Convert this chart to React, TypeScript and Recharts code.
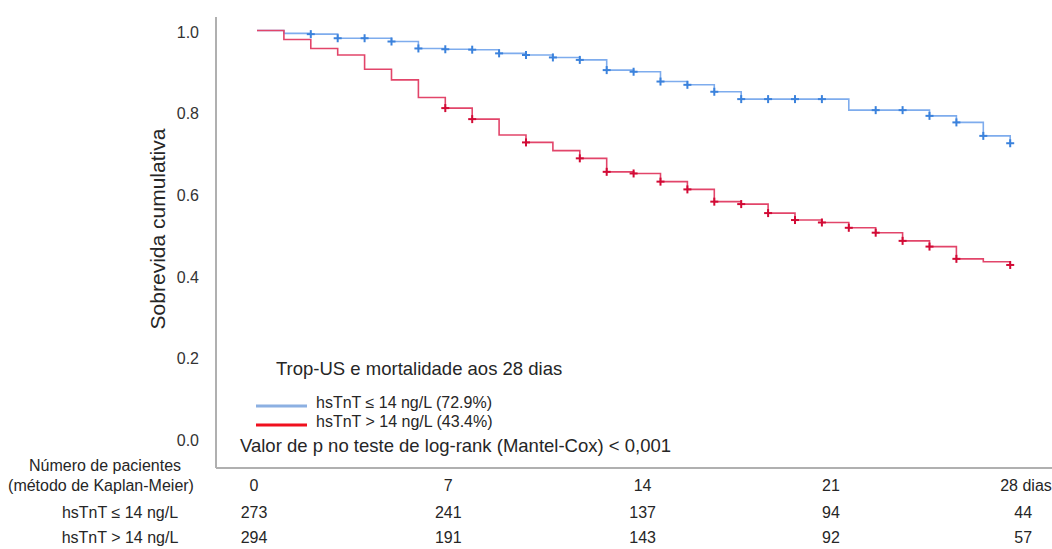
import { Legend, Line, LineChart, XAxis, YAxis } from "recharts";

const days = [
  0, 1, 2, 3, 4, 5, 6, 7, 8, 9, 10, 11, 12, 13, 14, 15, 16, 17, 18, 19, 20,
  21, 22, 23, 24, 25, 26, 27, 28,
];

// hsTnT <= 14 ng/L
const lowSurvival = [
  1.0, 0.993, 0.991, 0.981, 0.981, 0.973, 0.956, 0.954, 0.953, 0.944, 0.94,
  0.934, 0.928, 0.903, 0.899, 0.875, 0.867, 0.85, 0.832, 0.832, 0.832, 0.832,
  0.805, 0.805, 0.805, 0.791, 0.775, 0.742, 0.724,
];
const lowCensored = [
  2, 3, 4, 5, 6, 7, 8, 9, 10, 11, 12, 13, 14, 15, 16, 17, 18, 19, 20, 21, 23,
  24, 25, 26, 27, 28,
];

// hsTnT > 14 ng/L
const highSurvival = [
  1.0, 0.978, 0.956, 0.94, 0.905, 0.879, 0.836, 0.81, 0.783, 0.744, 0.726,
  0.706, 0.687, 0.654, 0.65, 0.63, 0.611, 0.581, 0.575, 0.553, 0.536, 0.53,
  0.517, 0.505, 0.485, 0.471, 0.441, 0.434, 0.426,
];
const highCensored = [
  7, 8, 10, 12, 13, 14, 15, 16, 17, 18, 19, 20, 21, 22, 23, 24, 25, 26, 28,
];

const xTicks = [0, 7, 14, 21, 28];
const xTickLabels = ["0", "7", "14", "21", "28 dias"];
const atRiskLow = [273, 241, 137, 94, 44];
const atRiskHigh = [294, 191, 143, 92, 57];
const yTicks = [0, 0.2, 0.4, 0.6, 0.8, 1.0];

const lowName = "hsTnT ≤ 14 ng/L";
const highName = "hsTnT > 14 ng/L";

const data = days.map((d, i) => ({
  day: d,
  low: lowSurvival[i],
  high: highSurvival[i],
}));

const FONT = '"Liberation Sans", Arial, Helvetica, sans-serif';
const TEXT = "#262626";
const BLUE = "#7eaced";
const BLUE_MARK = "#3b82dc";
const RED = "#e2456a";
const RED_MARK = "#d20a35";
const AXIS = "#b0b0b0";

// small horizontal shifts of the at-risk columns relative to the tick
const COLUMN_NUDGE = [-3, 3, 9, 9, 13];

function crossDot(censored: number[], color: string) {
  return (props: any) => {
    const { cx, cy, payload, index } = props;
    if (!censored.includes(payload.day)) return <g key={`c-${index}`} />;
    return (
      <g key={`c-${index}`} stroke={color} strokeWidth={2}>
        <line x1={cx - 4} y1={cy} x2={cx + 4} y2={cy} />
        <line x1={cx} y1={cy - 4} x2={cx} y2={cy + 4} />
      </g>
    );
  };
}

function RiskTick({ x, y, payload }: any) {
  const i = xTicks.indexOf(payload.value);
  const col = x + COLUMN_NUDGE[i];
  const last = i === xTicks.length - 1;
  return (
    <g fontSize={16} fill={TEXT} fontFamily={FONT}>
      <text x={last ? x - 10 : col} y={y + 23} textAnchor={last ? "start" : "middle"}>
        {xTickLabels[i]}
      </text>
      <text x={col} y={y + 50} textAnchor="middle">
        {atRiskLow[i]}
      </text>
      <text x={col} y={y + 75} textAnchor="middle">
        {atRiskHigh[i]}
      </text>
      {i === 0 && (
        <>
          <text x={105} y={y + 3} textAnchor="middle">Número de pacientes</text>
          <text x={101} y={y + 23} textAnchor="middle">(método de Kaplan-Meier)</text>
          <text x={120} y={y + 50} textAnchor="middle">{lowName}</text>
          <text x={120} y={y + 75} textAnchor="middle">{highName}</text>
        </>
      )}
    </g>
  );
}

function KMLegend() {
  return (
    <svg width={480} height={110} style={{ fontFamily: FONT }}>
      <text x={46} y={25} fontSize={18.5} fill={TEXT}>
        Trop-US e mortalidade aos 28 dias
      </text>
      <line x1={26} y1={56} x2={77} y2={56} stroke="#8cb0e2" strokeWidth={3} />
      <text x={86} y={58} fontSize={16} fill={TEXT}>
        {lowName} (72.9%)
      </text>
      <line x1={26} y1={75} x2={77} y2={75} stroke="#f0101e" strokeWidth={3} />
      <text x={86} y={77} fontSize={16} fill={TEXT}>
        {highName} (43.4%)
      </text>
      <text x={10} y={102} fontSize={18.5} fill={TEXT}>
        Valor de p no teste de log-rank (Mantel-Cox) {"<"} 0,001
      </text>
    </svg>
  );
}

export default function App() {
  return (
    <div style={{ position: "absolute", left: 0, top: 0, width: 1052, height: 549, background: "#fff" }}>
      <LineChart
        width={1052}
        height={549}
        data={data}
        margin={{ top: 17, right: 0, left: 0, bottom: 0 }}
      >
        <XAxis
          dataKey="day"
          type="number"
          domain={[-1.524, 29.554]}
          allowDataOverflow
          ticks={xTicks}
          interval={0}
          tick={<RiskTick />}
          tickLine={false}
          tickSize={0}
          tickMargin={0}
          height={81}
          axisLine={{ stroke: AXIS, strokeWidth: 2 }}
        />
        <YAxis
          type="number"
          domain={[-0.071, 1.033]}
          allowDataOverflow
          ticks={yTicks}
          interval={0}
          width={216}
          tickLine={false}
          tickSize={0}
          tickMargin={17}
          tickFormatter={(v: number) => v.toFixed(1)}
          tick={{ fill: "#333", fontSize: 16, fontFamily: FONT, dy: 1.5 }}
          axisLine={{ stroke: AXIS, strokeWidth: 2 }}
          label={{
            content: () => (
              <text
                x={165}
                y={229}
                transform="rotate(-90 165 229)"
                textAnchor="middle"
                fontSize={21}
                fill={TEXT}
                fontFamily={FONT}
              >
                Sobrevida cumulativa
              </text>
            ),
          }}
        />
        <Legend
          layout="horizontal"
          verticalAlign="middle"
          align="center"
          content={<KMLegend />}
          wrapperStyle={{ left: 230, top: 350, width: 480, height: 110 }}
        />
        <Line
          dataKey="low"
          name={lowName}
          type="stepAfter"
          stroke={BLUE}
          strokeWidth={1.6}
          dot={crossDot(lowCensored, BLUE_MARK)}
          activeDot={false}
          isAnimationActive={false}
        />
        <Line
          dataKey="high"
          name={highName}
          type="stepAfter"
          stroke={RED}
          strokeWidth={1.6}
          dot={crossDot(highCensored, RED_MARK)}
          activeDot={false}
          isAnimationActive={false}
        />
      </LineChart>
    </div>
  );
}
